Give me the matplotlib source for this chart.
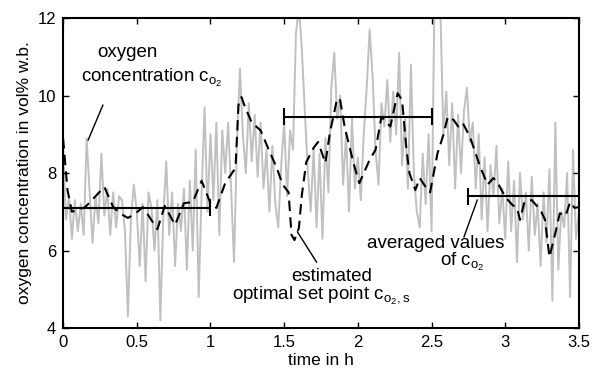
import numpy as np
import matplotlib
matplotlib.use("Agg")
import matplotlib.pyplot as plt

plt.rcParams['font.family'] = ['Liberation Sans', 'DejaVu Sans']
plt.rcParams['mathtext.fontset'] = 'custom'
plt.rcParams['mathtext.rm'] = 'Liberation Sans'
plt.rcParams['mathtext.it'] = 'Liberation Sans'

# measured oxygen concentration (gray), sampled every 0.02 h
meas_t = np.linspace(0, 3.5, 176)
meas_c = [
    8.7, 6.8, 7.4, 6.3, 7.3, 6.5, 7.2, 6.4, 8.9, 7.5,
    6.2, 7.4, 6.7, 8.5, 6.9, 7.6, 6.4, 7.5, 6.6, 7.4,
    7.3, 6.5, 4.3, 6.8, 7.7, 7.0, 5.6, 7.2, 5.2, 7.5,
    7.1, 6.0, 7.3, 4.2, 6.9, 8.3, 6.4, 7.5, 5.6, 7.2,
    6.5, 7.6, 5.5, 7.8, 6.0, 8.6, 4.8, 7.5, 9.7, 7.0,
    9.0, 7.3, 9.3, 6.4, 9.1, 8.0, 9.3, 7.6, 5.7, 8.8,
    10.7, 9.0, 8.0, 9.8, 8.3, 9.5, 7.9, 9.3, 7.6, 8.6,
    7.0, 8.7, 7.2, 6.6, 8.2, 9.3, 7.4, 9.1, 8.6, 11.6,
    12.3, 11.2, 9.6, 8.1, 7.0, 8.6, 6.6, 8.5, 6.3, 8.9,
    7.5, 10.2, 11.1, 9.4, 10.0, 7.7, 9.0, 7.0, 9.4, 7.6,
    8.4, 7.3, 9.0, 10.2, 11.7, 10.5, 8.6, 7.7, 9.8, 9.2,
    10.4, 8.8, 10.1, 9.0, 11.1, 8.2, 9.4, 7.6, 10.8, 8.0,
    7.0, 6.6, 8.5, 7.2, 9.0, 6.5, 12.5, 13.0, 12.2, 9.0,
    10.1, 8.2, 9.8, 7.6, 9.5, 8.0, 9.6, 10.2, 8.8, 9.3,
    7.6, 9.0, 6.8, 8.4, 6.5, 8.2, 7.4, 8.7, 6.7, 7.6,
    6.3, 8.3, 6.5, 7.8, 5.7, 8.0, 6.8, 7.5, 6.0, 7.9,
    6.4, 7.2, 5.6, 7.5, 6.2, 8.1, 4.7, 9.3, 5.5, 7.0,
    6.6, 8.0, 4.8, 8.6, 6.3, 7.0,
]

# estimated optimal set point (dashed)
set_t = [0.0, 0.03, 0.06, 0.1, 0.15, 0.22, 0.28, 0.34, 0.39, 0.44, 0.49, 0.54,
         0.58, 0.64, 0.69, 0.76, 0.82, 0.88, 0.94, 1.0, 1.04, 1.1, 1.17, 1.19,
         1.21, 1.23, 1.28, 1.34, 1.39, 1.45, 1.49, 1.53, 1.55, 1.57, 1.6, 1.62,
         1.65, 1.7, 1.73, 1.78, 1.81, 1.86, 1.88, 1.91, 1.97, 2.01, 2.08, 2.12,
         2.16, 2.22, 2.27, 2.3, 2.33, 2.35, 2.39, 2.42, 2.46, 2.49, 2.54, 2.58,
         2.61, 2.65, 2.68, 2.71, 2.76, 2.83, 2.88, 2.92, 2.95, 3.0, 3.05, 3.08,
         3.1, 3.13, 3.18, 3.24, 3.27, 3.3, 3.34, 3.37, 3.41, 3.44, 3.47, 3.5]
set_c = [8.9, 7.56, 7.0, 7.05, 7.12, 7.4, 7.64, 7.12, 6.95, 6.84, 6.95, 7.12,
         6.9, 6.55, 7.15, 6.66, 7.22, 7.25, 7.8, 7.22, 7.1, 7.74, 8.13, 9.75,
         9.96, 9.75, 9.3, 9.1, 8.65, 8.13, 7.7, 7.5, 6.4, 6.27, 6.58, 7.43,
         8.28, 8.65, 8.8, 8.26, 9.03, 9.93, 9.88, 9.2, 8.26, 7.74, 8.34, 8.6,
         9.45, 9.2, 10.06, 9.88, 8.6, 8.0, 7.56, 7.87, 7.64, 7.5, 8.5, 8.98,
         9.45, 9.37, 9.2, 9.3, 8.94, 8.16, 7.7, 7.87, 7.74, 7.38, 7.17, 7.1,
         6.79, 7.25, 7.3, 7.04, 6.79, 5.83, 6.45, 6.96, 6.9, 7.25, 7.1, 7.12]

# averaged values (horizontal segments)
avg_start = [0.0, 1.5, 2.75]
avg_end = [1.0, 2.5, 3.5]
avg_val = [7.1, 9.45, 7.4]

xticks = [0, 0.5, 1, 1.5, 2, 2.5, 3, 3.5]
xticklabels = ['0', '0.5', '1', '1.5', '2', '2.5', '3', '3.5']
yticks = [4, 6, 8, 10, 12]

fig = plt.figure(figsize=(5.95, 3.83), dpi=100)
ax = fig.add_axes([0.106, 0.1436, 0.867, 0.8094])

ax.plot(meas_t, meas_c, color='#c0c0c0', lw=1.4, zorder=1)
ax.plot(set_t, set_c, color='black', lw=1.5, dashes=(5, 3), zorder=3)

cap = 0.22
ax.hlines(avg_val, avg_start, avg_end, color='black', lw=1.5, zorder=4)
ax.vlines(avg_start + avg_end, [v - cap for v in avg_val * 2], [v + cap for v in avg_val * 2],
          color='black', lw=1.5, zorder=4)

ax.set_xlim(0, 3.5)
ax.set_ylim(4, 12)
ax.set_xticks(xticks)
ax.set_xticklabels(xticklabels)
ax.set_yticks(yticks)
ax.tick_params(direction='in', top=True, right=True, length=4, width=1, labelsize=12, pad=5)
for s in ax.spines.values():
    s.set_linewidth(1.5)

ax.set_xlabel('time in h', fontsize=12.5, labelpad=2)
ax.set_ylabel('oxygen concentration in vol% w.b.', fontsize=12.5, labelpad=4)

fs = 13.5
ax.text(0.44, 11.12, 'oxygen', ha='center', va='center', fontsize=fs)
ax.text(0.60, 10.45, 'concentration c$_{\\mathrm{o}_2}$', ha='center', va='center', fontsize=fs)
ax.plot([0.17, 0.27], [8.85, 9.75], color='black', lw=1)

ax.text(1.825, 5.34, 'estimated', ha='center', va='center', fontsize=fs)
ax.text(1.75, 4.83, 'optimal set point c$_{\\mathrm{o}_2\\mathrm{,s}}$', ha='center',
        va='center', fontsize=fs)
ax.plot([1.59, 1.72], [6.48, 5.7], color='black', lw=1)

ax.text(2.53, 6.19, 'averaged values', ha='center', va='center', fontsize=fs)
ax.text(2.71, 5.70, 'of c$_{\\mathrm{o}_2}$', ha='center', va='center', fontsize=fs)
ax.plot([2.81, 2.72], [7.3, 6.35], color='black', lw=1)

fig.savefig('out.png', dpi=100)
